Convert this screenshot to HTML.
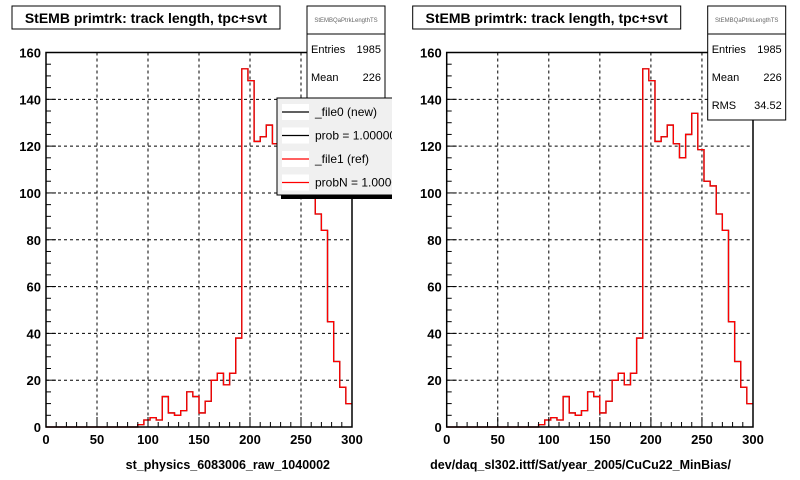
<!DOCTYPE html>
<html><head><meta charset="utf-8"><style>
body{margin:0;background:#fff;width:800px;height:480px;overflow:hidden}
svg{display:block;font-family:"Liberation Sans",Arial,sans-serif}
</style></head><body>
<svg id="c" width="800" height="480"></svg>
<script>
const binStart = 90;
const binWidth = 6;
const counts = [1,3,4,3,13,6,5,7,15,13,6,11,20,23,18,23,38,153,148,122,124,129,121,115,125,134,118.5,105,103,91,84,45,28,17,10];
const xTicks = [0,50,100,150,200,250,300];
const yTicks = [0,20,40,60,80,100,120,140,160];
const statLabels = ["Entries","Mean","RMS"];
const statValues = ["1985","226","34.52"];
const legendLabels = ["_file0 (new)","prob = 1.000000","_file1 (ref)","probN = 1.000000"];
const legendColors = ["#000","#000","#f00","#f00"];

const NS="http://www.w3.org/2000/svg";
const svg=document.getElementById('c');
function mk(tag,attrs,parent,text){const e=document.createElementNS(NS,tag);for(const k in attrs)e.setAttribute(k,attrs[k]);if(text!==undefined)e.textContent=text;(parent||svg).appendChild(e);return e;}

const defs=mk('defs',{});
const cp=mk('clipPath',{id:'leftclip'},defs);
mk('rect',{x:0,y:0,width:392,height:480},cp);

function panel(x0,x1,name,xtitle,showLegend,showRMS,clip){
  const g=mk('g',clip?{'clip-path':'url(#'+clip+')'}:{});
  
  
  const yTop=52.5,yBot=427;
  const sx=v=>x0+(v/300)*(x1-x0);
  const sy=v=>yBot-(v/160)*(yBot-yTop);
  xTicks.slice(1,-1).forEach(t=>{const l=mk('line',{x1:sx(t),x2:sx(t),y1:yTop,y2:yBot,stroke:'#000','stroke-dasharray':'3,3','stroke-width':1},g);});
  yTicks.slice(1,-1).forEach(t=>{const l=mk('line',{x1:x0,x2:x1,y1:sy(t),y2:sy(t),stroke:'#000','stroke-dasharray':'3,3','stroke-width':1},g);});
  function path(color){
    let d=`M${sx(0)},${sy(0)} L${sx(binStart)},${sy(0)}`;
    counts.forEach((c,i)=>{const a=binStart+i*binWidth;d+=` L${sx(a)},${sy(c)} L${sx(a+binWidth)},${sy(c)}`;});
    return mk('path',{d:d,fill:'none',stroke:color,'stroke-width':1.3},g);
  }
  const pb=path('#000');
  const pr=path('#f00');
  const fr=mk('rect',{x:x0,y:yTop,width:x1-x0,height:yBot-yTop,fill:'none',stroke:'#000','stroke-width':1.5},g);
  
  for(let v=0;v<=300;v+=10){const big=v%50===0;mk('line',{x1:sx(v),x2:sx(v),y1:yBot,y2:yBot-(big?10:5),stroke:'#000'},g);}
  for(let v=0;v<=160;v+=5){const big=v%20===0;mk('line',{x1:x0,x2:x0+(big?10:5),y1:sy(v),y2:sy(v),stroke:'#000'},g);}
  xTicks.forEach(t=>{const e=mk('text',{x:sx(t),y:yBot+17,'text-anchor':'middle','font-size':13,'font-weight':'bold'},g,String(t));});
  yTicks.forEach(t=>{const e=mk('text',{x:x0-5,y:sy(t)+5,'text-anchor':'end','font-size':13,'font-weight':'bold'},g,String(t));});
  const xt=mk('text',{x:x1-22,y:469,'text-anchor':'end','font-size':12.5,'font-weight':'bold'},g,xtitle);
  
  const tb=x0-34;
  const tr=mk('rect',{x:tb,y:6,width:268,height:23,fill:'#fff',stroke:'#000','stroke-width':1},g);
  
  const tt=mk('text',{x:tb+134,y:23,'text-anchor':'middle','font-size':14,'font-weight':'bold'},g,'StEMB primtrk: track length, tpc+svt');
  
  const bx=x0+261, bw=78, bh=showRMS?114:100;
  const sb=mk('rect',{x:bx,y:6,width:bw,height:bh,fill:'#fff',stroke:'#000','stroke-width':1},g);
  
  mk('line',{x1:bx,x2:bx+bw,y1:34,y2:34,stroke:'#000'},g);
  const sn=mk('text',{x:bx+bw/2,y:22,'text-anchor':'middle','font-size':6,fill:'#666'},g,'StEMBQaPtrkLengthTS');
  
  statLabels.forEach((l,i)=>{if(i===2&&!showRMS)return;const y=53+i*28;
    const a=mk('text',{x:bx+4,y:y,'font-size':11},g,l);
    const b=mk('text',{x:bx+bw-4,y:y,'text-anchor':'end','font-size':11},g,statValues[i]);});
  if(showLegend){
    const lx=x0+231, ly=98;
    mk('rect',{x:lx+4,y:ly+4,width:130,height:97,fill:'#000'},g);
    const lr=mk('rect',{x:lx,y:ly,width:130,height:97,fill:'#f0f0f0',stroke:'#000'},g);
    
    legendLabels.forEach((l,i)=>{const y=ly+12+i*23.5;
      mk('rect',{x:lx+5,y:y-6,width:27,height:16,fill:'#fff'},g);
      mk('line',{x1:lx+5,x2:lx+32,y1:y+2,y2:y+2,stroke:legendColors[i],'stroke-width':1.3},g);
      const t=mk('text',{x:lx+38,y:y+6,'font-size':12},g,l);});
  }
}
panel(46,352,'left-panel','st_physics_6083006_raw_1040002',true,false,'leftclip');
panel(446.7,753,'right-panel','dev/daq_sl302.ittf/Sat/year_2005/CuCu22_MinBias/',false,true,null);
</script>
</body></html>
